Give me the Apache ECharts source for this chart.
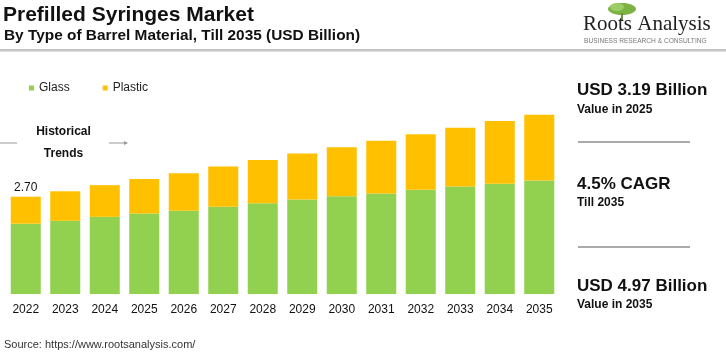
<!DOCTYPE html>
<html>
<head>
<meta charset="utf-8">
<script src="https://cdn.jsdelivr.net/npm/echarts@6/dist/echarts.min.js"></script>
<style>html,body{margin:0;padding:0;background:#fff;}#c{width:726px;height:357px;}</style>
</head>
<body>
<div id="c"></div>
<script>
var categories = ['2022','2023','2024','2025','2026','2027','2028','2029','2030','2031','2032','2033','2034','2035'];
var glass   = [1.95, 2.03, 2.14, 2.23, 2.31, 2.42, 2.52, 2.62, 2.71, 2.79, 2.89, 2.98, 3.06, 3.15];
var plastic = [0.75, 0.82, 0.88, 0.96, 1.04, 1.12, 1.20, 1.28, 1.36, 1.46, 1.54, 1.63, 1.74, 1.82];
var seriesNames = ['Glass', 'Plastic'];
var labelledIndex = [0];

var FONT = 'Liberation Sans, Arial, sans-serif';
var chart = echarts.init(document.getElementById('c'));

var plasticData = plastic.map(function (v, i) {
  if (labelledIndex.indexOf(i) >= 0) {
    return { value: v, label: { show: true, position: 'top', distance: 3,
      formatter: function () { return (glass[i] + plastic[i]).toFixed(2); },
      color: '#111', fontSize: 12, fontFamily: FONT } };
  }
  return v;
});

chart.setOption({
  animation: false,
  backgroundColor: '#fff',
  textStyle: { fontFamily: FONT },
  legend: {
    data: seriesNames, left: 29, top: 82, padding: 0, icon: 'rect', itemWidth: 5, itemHeight: 5,
    itemGap: 33, textStyle: { fontSize: 12, color: '#222', fontFamily: FONT }
  },
  grid: { left: 6, right: 167, top: 59.7, bottom: 63, containLabel: false },
  xAxis: {
    type: 'category', data: categories,
    axisLine: { show: false }, axisTick: { show: false },
    axisLabel: { color: '#111', fontSize: 12, margin: 10, fontFamily: FONT }
  },
  yAxis: { type: 'value', min: 0, max: 6.5, show: false, splitLine: { show: false } },
  series: [
    { name: seriesNames[0], type: 'bar', stack: 't', data: glass, barWidth: '76%',
      itemStyle: { color: '#92D050' } },
    { name: seriesNames[1], type: 'bar', stack: 't', data: plasticData, barWidth: '76%',
      itemStyle: { color: '#FFC000' } }
  ],
  graphic: [
    { type: 'text', left: 3, top: 5, style: { text: 'Prefilled Syringes Market', fontSize: 21, fontWeight: 'bold', fill: '#111', fontFamily: FONT } },
    { type: 'text', left: 4, top: 28, style: { text: 'By Type of Barrel Material, Till 2035 (USD Billion)', fontSize: 15.4, fontWeight: 'bold', fill: '#111', fontFamily: FONT } },
    { type: 'rect', shape: { x: 0, y: 49, width: 726, height: 2.5 }, style: { fill: '#c4c4c4' } },
    // logo
    { type: 'ellipse', shape: { cx: 622, cy: 9, rx: 14, ry: 6 }, style: { fill: '#7cb342' } },
    { type: 'ellipse', shape: { cx: 617, cy: 7, rx: 7, ry: 4 }, style: { fill: '#9ccc65' } },
    { type: 'rect', shape: { x: 621, y: 13, width: 2, height: 8 }, style: { fill: '#6d8f3a' } },
    { type: 'text', left: 583, top: 14, style: { text: 'Roots Analysis', fontSize: 21, fill: '#222', fontFamily: 'Liberation Serif, Times New Roman, serif' } },
    { type: 'text', left: 584, top: 38, style: { text: 'BUSINESS RESEARCH & CONSULTING', fontSize: 6.6, fill: '#777', fontFamily: FONT } },
    // historical trends
    { type: 'text', x: 63.5, y: 132, style: { text: 'Historical', fontSize: 12, fontWeight: 'bold', fill: '#111', align: 'center', verticalAlign: 'middle', fontFamily: FONT } },
    { type: 'text', x: 63.5, y: 154, style: { text: 'Trends', fontSize: 12, fontWeight: 'bold', fill: '#111', align: 'center', verticalAlign: 'middle', fontFamily: FONT } },
    { type: 'line', shape: { x1: 0, y1: 143, x2: 17, y2: 143 }, style: { stroke: '#999', lineWidth: 1 } },
    { type: 'line', shape: { x1: 109, y1: 143, x2: 127, y2: 143 }, style: { stroke: '#999', lineWidth: 1 } },
    { type: 'polygon', shape: { points: [[128, 143], [124, 141], [124, 145]] }, style: { fill: '#999' } },
    // right panel
    { type: 'text', left: 577, top: 82, style: { text: 'USD 3.19 Billion', fontSize: 17, fontWeight: 'bold', fill: '#111', fontFamily: FONT } },
    { type: 'text', left: 577, top: 104, style: { text: 'Value in 2025', fontSize: 12, fontWeight: 'bold', fill: '#111', fontFamily: FONT } },
    { type: 'rect', shape: { x: 578, y: 141, width: 112, height: 2 }, style: { fill: '#aaa' } },
    { type: 'text', left: 577, top: 176, style: { text: '4.5% CAGR', fontSize: 17, fontWeight: 'bold', fill: '#111', fontFamily: FONT } },
    { type: 'text', left: 577, top: 197, style: { text: 'Till 2035', fontSize: 12, fontWeight: 'bold', fill: '#111', fontFamily: FONT } },
    { type: 'rect', shape: { x: 578, y: 246, width: 112, height: 2 }, style: { fill: '#aaa' } },
    { type: 'text', left: 577, top: 278, style: { text: 'USD 4.97 Billion', fontSize: 17, fontWeight: 'bold', fill: '#111', fontFamily: FONT } },
    { type: 'text', left: 577, top: 299, style: { text: 'Value in 2035', fontSize: 12, fontWeight: 'bold', fill: '#111', fontFamily: FONT } },
    // source
    { type: 'text', left: 4, top: 339, style: { text: 'Source: https://www.rootsanalysis.com/', fontSize: 11, fill: '#333', fontFamily: FONT } }
  ]
});
</script>
</body>
</html>
